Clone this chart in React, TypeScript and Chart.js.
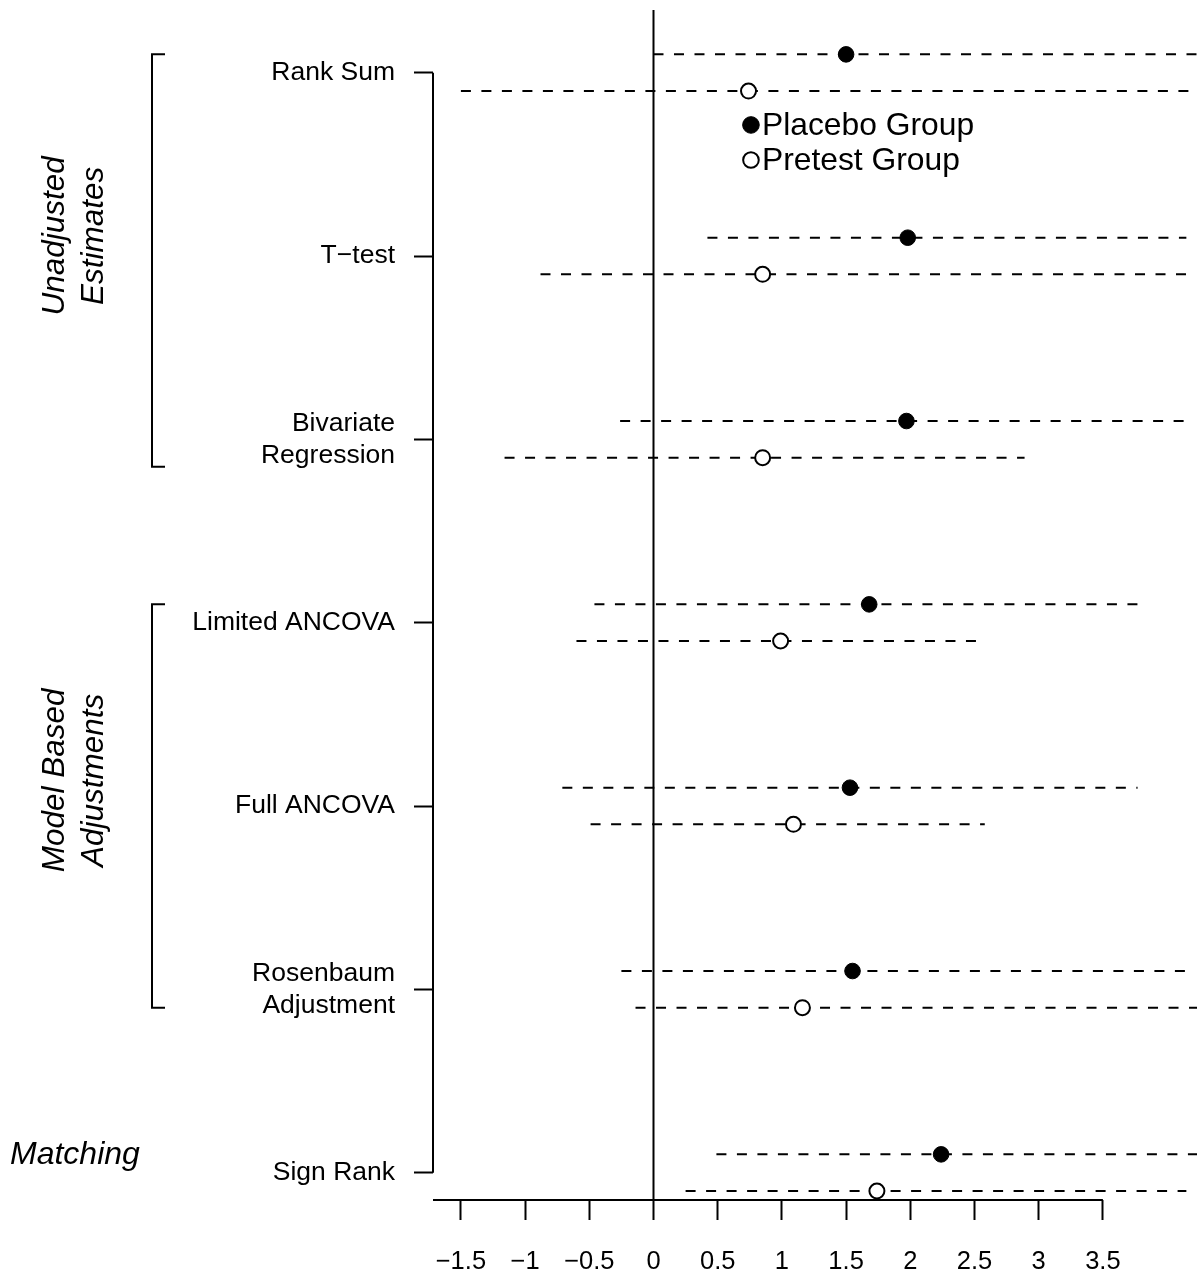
import React, { useEffect, useRef } from 'react';
import { Chart, registerables } from 'chart.js';

Chart.register(...registerables);

const FONT = '"Liberation Sans", Arial, Helvetica, sans-serif';

// ---- data ----
const categories: (string | string[])[] = [
  'Rank Sum',
  'T\u2212test',
  ['Bivariate', 'Regression'],
  'Limited ANCOVA',
  'Full ANCOVA',
  ['Rosenbaum', 'Adjustment'],
  'Sign Rank',
];
const placeboEst = [1.5, 1.98, 1.97, 1.68, 1.53, 1.55, 2.24];
const placeboLow = [0.0, 0.42, -0.26, -0.46, -0.71, -0.25, 0.49];
const placeboHigh = [4.6, 4.15, 4.14, 3.77, 3.77, 4.15, 4.6];
const pretestEst = [0.74, 0.85, 0.85, 0.99, 1.09, 1.16, 1.74];
const pretestLow = [-1.5, -0.88, -1.16, -0.6, -0.49, -0.14, 0.25];
const pretestHigh = [4.6, 4.18, 2.89, 2.58, 2.58, 4.6, 4.15];
const xTicks = [-1.5, -1, -0.5, 0, 0.5, 1, 1.5, 2, 2.5, 3, 3.5];
const seriesNames = ['Placebo Group', 'Pretest Group'];

const groupLabels = [['Unadjusted', 'Estimates'], ['Model Based', 'Adjustments']];
const groupStart = [0.9, 3.9];
const groupEnd = [3.15, 6.1];
const groupCenter = [1.89, 4.86];
const matchingLabel = 'Matching';

// ---- layout constants ----
const W = 1197;
const H = 1277;
const X_MIN = -1.7173;
const X_MAX = 4.2329;
const Y_MIN = 0.658;
const Y_MAX = 7.149;
const OFFSET = 0.1;
const LEGEND_X = 0.759;
const LEGEND_Y = [1.285, 1.476];

const fmt = (v: number) => (v < 0 ? '\u2212' + String(Math.abs(v)) : String(v));

export default function App() {
  const ref = useRef<HTMLCanvasElement>(null);

  useEffect(() => {
    const canvas = ref.current;
    if (!canvas) return;

    const placeboLines: any[] = [];
    const pretestLines: any[] = [];
    categories.forEach((_, i) => {
      const yp = i + 1 - OFFSET;
      const yq = i + 1 + OFFSET;
      placeboLines.push({ x: placeboLow[i], y: yp }, { x: placeboHigh[i], y: yp }, { x: placeboHigh[i], y: null });
      pretestLines.push({ x: pretestLow[i], y: yq }, { x: pretestHigh[i], y: yq }, { x: pretestHigh[i], y: null });
    });
    const placeboPts = placeboEst.map((v, i) => ({ x: v, y: i + 1 - OFFSET }));
    const pretestPts = pretestEst.map((v, i) => ({ x: v, y: i + 1 + OFFSET }));

    const decor = {
      id: 'decor',
      beforeDatasetsDraw(chart: any) {
        const { ctx, chartArea, scales } = chart;
        const x = scales.x;
        const y = scales.y;
        ctx.save();
        ctx.strokeStyle = '#000';
        ctx.lineWidth = 2;
        ctx.lineCap = 'butt';
        // zero reference line
        const x0 = x.getPixelForValue(0);
        ctx.beginPath();
        ctx.moveTo(x0, chartArea.top);
        ctx.lineTo(x0, chartArea.bottom);
        ctx.stroke();
        // y axis line (first to last category)
        ctx.beginPath();
        ctx.moveTo(chartArea.left, y.getPixelForValue(1));
        ctx.lineTo(chartArea.left, y.getPixelForValue(categories.length));
        ctx.stroke();
        // x axis line
        ctx.beginPath();
        ctx.moveTo(chartArea.left, chartArea.bottom);
        ctx.lineTo(x.getPixelForValue(xTicks[xTicks.length - 1]), chartArea.bottom);
        ctx.stroke();

        // group brackets
        const bx = 152;
        const bt = 13;
        groupStart.forEach((s, g) => {
          const y1 = y.getPixelForValue(s);
          const y2 = y.getPixelForValue(groupEnd[g]);
          ctx.beginPath();
          ctx.moveTo(bx + bt, y1);
          ctx.lineTo(bx, y1);
          ctx.lineTo(bx, y2);
          ctx.lineTo(bx + bt, y2);
          ctx.stroke();
        });

        // group labels (rotated, italic)
        ctx.fillStyle = '#000';
        ctx.font = `italic 31.5px ${FONT}`;
        ctx.textAlign = 'center';
        ctx.textBaseline = 'alphabetic';
        const baseX = [64, 103];
        groupLabels.forEach((lines, g) => {
          const cy = y.getPixelForValue(groupCenter[g]);
          lines.forEach((txt, k) => {
            ctx.save();
            ctx.translate(baseX[k], cy);
            ctx.rotate(-Math.PI / 2);
            ctx.fillText(txt, 0, 0);
            ctx.restore();
          });
        });
        ctx.textAlign = 'left';
        ctx.font = `italic 32px ${FONT}`;
        ctx.fillText(matchingLabel, 10, y.getPixelForValue(categories.length) - 9);
        ctx.restore();
      },
      afterDraw(chart: any) {
        const { ctx, scales } = chart;
        const x = scales.x;
        const y = scales.y;
        const lx = x.getPixelForValue(LEGEND_X);
        ctx.save();
        seriesNames.forEach((name, k) => {
          const cy = y.getPixelForValue(LEGEND_Y[k]);
          ctx.beginPath();
          ctx.arc(lx, cy, k === 0 ? 8.3 : 7.8, 0, Math.PI * 2);
          ctx.fillStyle = k === 0 ? '#000' : '#fff';
          ctx.fill();
          ctx.lineWidth = k === 0 ? 1 : 2;
          ctx.strokeStyle = '#000';
          ctx.stroke();
          ctx.fillStyle = '#000';
          ctx.font = `31.8px ${FONT}`;
          ctx.textAlign = 'left';
          ctx.textBaseline = 'alphabetic';
          ctx.fillText(name, lx + 11, cy + 10.5);
        });
        ctx.restore();
      },
    };

    const lineCommon = {
      type: 'line' as const,
      borderColor: '#000',
      borderWidth: 2,
      borderDash: [10, 10.5],
      borderCapStyle: 'butt' as const,
      pointRadius: 0,
      pointHoverRadius: 0,
      fill: false,
      tension: 0,
      spanGaps: false,
      order: 1,
    };

    const chart = new Chart(canvas, {
      type: 'scatter',
      data: {
        datasets: [
          {
            type: 'scatter',
            label: seriesNames[0],
            data: placeboPts,
            pointRadius: 7.8,
            pointHoverRadius: 7.8,
            pointBackgroundColor: '#000',
            pointBorderColor: '#000',
            pointBorderWidth: 1,
            order: 0,
          },
          {
            type: 'scatter',
            label: seriesNames[1],
            data: pretestPts,
            pointRadius: 7.5,
            pointHoverRadius: 7.5,
            pointBackgroundColor: '#fff',
            pointBorderColor: '#000',
            pointBorderWidth: 2,
            order: 0,
          },
          { ...lineCommon, label: seriesNames[0] + ' interval', data: placeboLines } as any,
          { ...lineCommon, label: seriesNames[1] + ' interval', data: pretestLines } as any,
        ],
      },
      options: {
        animation: false,
        responsive: false,
        devicePixelRatio: 1,
        events: [],
        layout: { autoPadding: false, padding: { top: 10, left: 0, right: 0, bottom: 0 } },
        plugins: {
          legend: { display: false },
          tooltip: { enabled: false },
        },
        scales: {
          x: {
            type: 'linear',
            position: 'bottom',
            min: X_MIN,
            max: X_MAX,
            afterBuildTicks: (s: any) => {
              s.ticks = xTicks.map((v) => ({ value: v }));
            },
            afterFit: (s: any) => {
              s.height = H - 1200;
              s.paddingLeft = 0;
              s.paddingRight = 0;
              s.paddingTop = 0;
              s.paddingBottom = 0;
            },
            border: { display: false },
            grid: {
              display: true,
              drawOnChartArea: false,
              drawTicks: true,
              tickLength: 20,
              tickWidth: 2,
              tickColor: '#000',
            },
            ticks: {
              color: '#000',
              font: { family: FONT, size: 25.5, lineHeight: 1.2 },
              padding: 27,
              maxRotation: 0,
              minRotation: 0,
              autoSkip: false,
              callback: (v: any) => fmt(Number(v)),
            },
          },
          y: {
            type: 'linear',
            position: 'left',
            reverse: true,
            min: Y_MIN,
            max: Y_MAX,
            afterBuildTicks: (s: any) => {
              s.ticks = categories.map((_, i) => ({ value: i + 1 }));
            },
            afterFit: (s: any) => {
              s.width = 433;
              s.paddingLeft = 0;
              s.paddingRight = 0;
              s.paddingTop = 0;
              s.paddingBottom = 0;
            },
            border: { display: false },
            grid: {
              display: true,
              drawOnChartArea: false,
              drawTicks: true,
              tickLength: 19,
              tickWidth: 2,
              tickColor: '#000',
            },
            ticks: {
              color: '#000',
              font: { family: FONT, size: 26.5, lineHeight: 1.2 },
              padding: 19,
              autoSkip: false,
              callback: (v: any) => categories[Math.round(Number(v)) - 1] as any,
            },
          },
        },
      },
      plugins: [decor],
    } as any);

    return () => {
      chart.destroy();
    };
  }, []);

  return (
    <div style={{ position: 'absolute', left: 0, top: 0, width: W, height: H, background: '#fff' }}>
      <canvas ref={ref} width={W} height={H} style={{ display: 'block', width: W, height: H }} />
    </div>
  );
}
